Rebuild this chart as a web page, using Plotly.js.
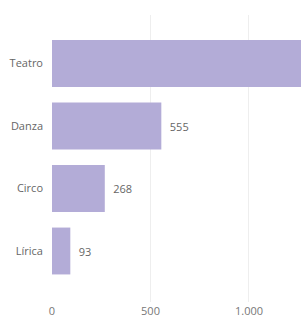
<!DOCTYPE html>
<html>
<head>
<meta charset="utf-8">
<script src="https://cdn.plot.ly/plotly-3.0.1.min.js"></script>
<style>html,body{margin:0;padding:0;background:#fff;overflow:hidden}#chart{width:301px;height:317px}</style>
</head>
<body>
<div id="chart"></div>
<script>
const categories = ["Teatro", "Danza", "Circo", "Lírica"];
const values = [1420, 555, 268, 93];
const labels = ["", "555", "268", "93"];
const tickValues = [0, 500, 1000];
const tickLabels = ["0", "500", "1.000"];

const trace = {
  type: "bar",
  orientation: "h",
  y: categories,
  x: values,
  text: labels,
  texttemplate: "\u2002%{text}",
  textposition: "outside",
  cliponaxis: true,
  constraintext: "none",
  textfont: {family: "Open Sans, sans-serif", size: 11, color: "#666666"},
  marker: {color: "#b3acd7"},
  width: 0.75,
  hoverinfo: "none"
};

const layout = {
  width: 301, height: 317,
  margin: {l: 52, r: 0, t: 15, b: 15},
  paper_bgcolor: "#ffffff",
  plot_bgcolor: "#ffffff",
  separators: ",.",
  showlegend: false,
  font: {family: "Open Sans, sans-serif", size: 11, color: "#777777"},
  xaxis: {
    range: [0, 1264],
    tickvals: tickValues,
    ticktext: tickLabels,
    showgrid: true,
    gridcolor: "#eeeeee",
    gridwidth: 1,
    zeroline: false,
    showline: false,
    ticks: "",
    ticklabelstandoff: 1,
    tickfont: {family: "Open Sans, sans-serif", size: 11, color: "#777777"}
  },
  yaxis: {
    type: "category",
    categoryorder: "array",
    categoryarray: categories,
    range: [3.816, -0.776],
    showgrid: false,
    zeroline: false,
    showline: false,
    ticks: "",
    ticklabelstandoff: 8,
    tickfont: {family: "Open Sans, sans-serif", size: 11, color: "#666666"}
  },
  bargap: 0.25
};

Plotly.newPlot("chart", [trace], layout, {displayModeBar: false, staticPlot: true});
</script>
</body>
</html>
